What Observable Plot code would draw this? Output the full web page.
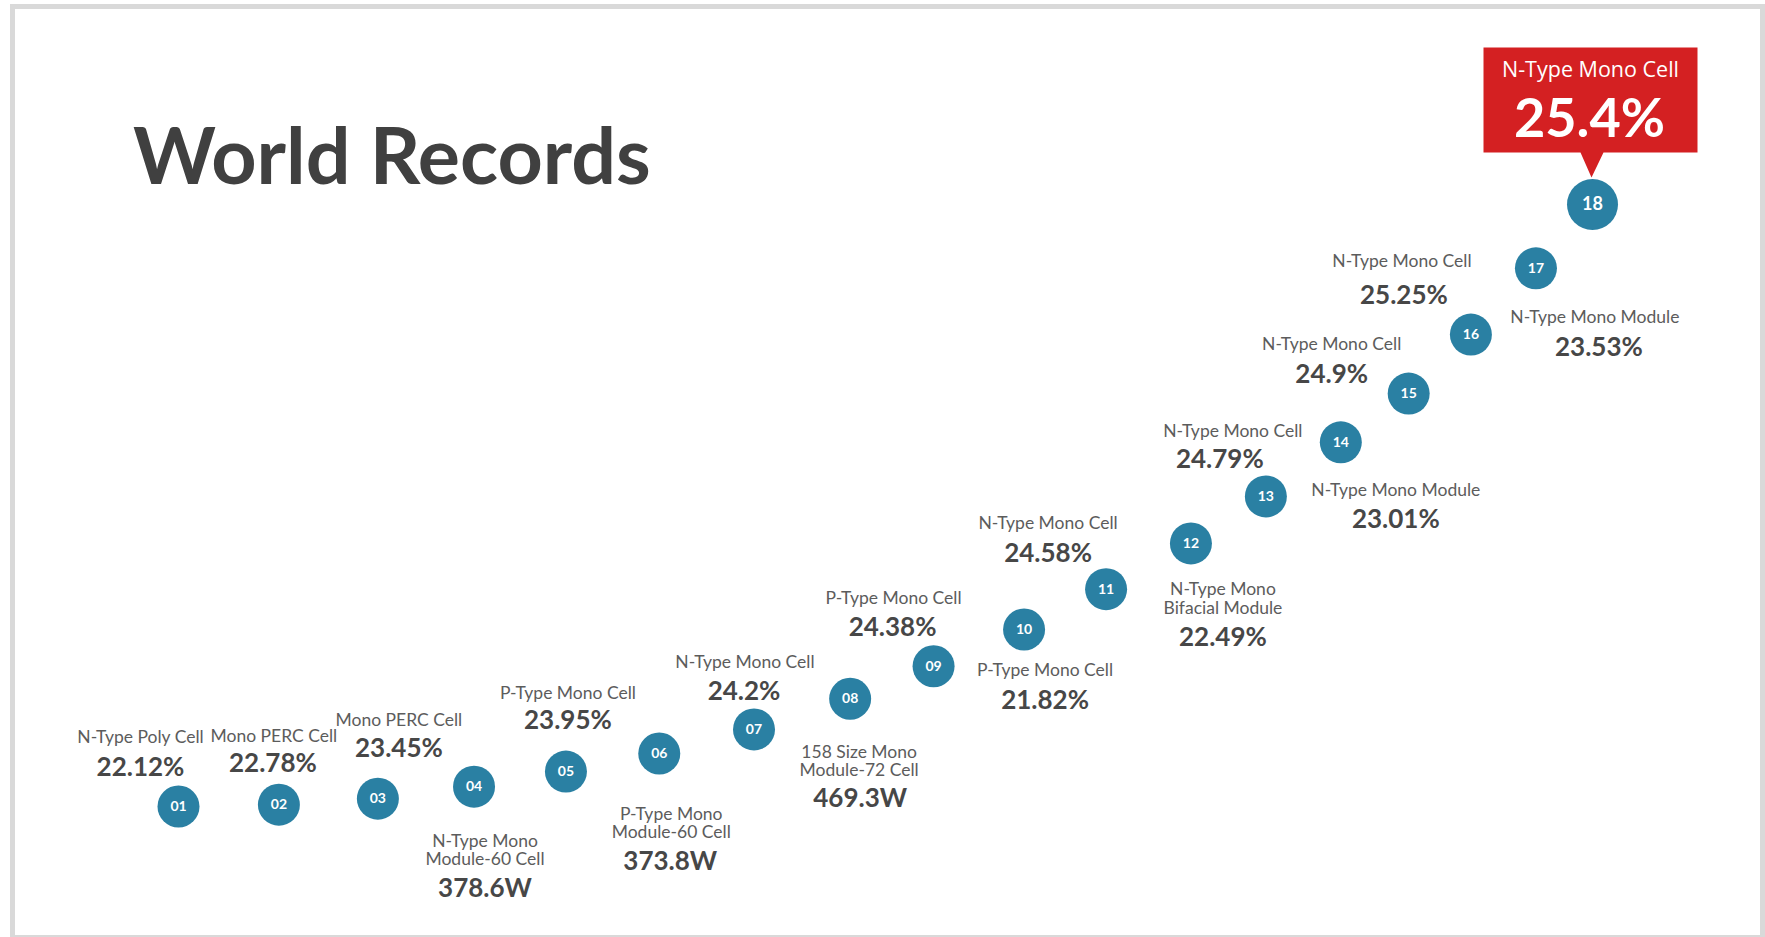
<!DOCTYPE html>
<html>
<head>
<meta charset="utf-8">
<script src="https://cdn.jsdelivr.net/npm/d3@7"></script>
<script src="https://cdn.jsdelivr.net/npm/@observablehq/plot@0.6"></script>
<style>
  html, body { margin: 0; padding: 0; background: #ffffff; }
  #wrap { position: relative; width: 1765px; height: 937px; overflow: hidden; background: #ffffff; }
  #frame { position: absolute; left: 10px; top: 4px; width: 1755px; height: 933px; box-sizing: border-box;
           border-style: solid; border-color: #d9d9d9; border-width: 5px 5px 2px 5px; pointer-events: none; }
  #title { position: absolute; left: 133px; top: 114px; margin: 0; font-family: Lato, "Open Sans", sans-serif;
           font-weight: 700; font-size: 79px; line-height: 1; color: #404040; white-space: nowrap; }
  #chart { position: absolute; left: 0; top: 0; }
</style>
</head>
<body>
<div id="wrap">
  <div id="chart"></div>
  <div id="frame"></div>
  <h1 id="title">World Records</h1>
</div>
<script>
// ---- data ----
const ids = ["01","02","03","04","05","06","07","08","09","10","11","12","13","14","15","16","17","18"];
const categories = [
  "N-Type Poly Cell", "Mono PERC Cell", "Mono PERC Cell", "N-Type Mono\nModule-60 Cell",
  "P-Type Mono Cell", "P-Type Mono\nModule-60 Cell", "N-Type Mono Cell", "158 Size Mono\nModule-72 Cell",
  "P-Type Mono Cell", "P-Type Mono Cell", "N-Type Mono Cell", "N-Type Mono\nBifacial Module",
  "N-Type Mono Cell", "N-Type Mono Module", "N-Type Mono Cell", "N-Type Mono Module",
  "N-Type Mono Cell", "N-Type Mono Cell"
];
const records = ["22.12%","22.78%","23.45%","378.6W","23.95%","373.8W","24.2%","469.3W","24.38%",
                 "21.82%","24.58%","22.49%","24.79%","23.01%","24.9%","23.53%","25.25%","25.4%"];
// position of each record along the rising path (abstract units 0-100)
const progress = [0, 7.1, 14.1, 20.9, 27.4, 34.0, 40.7, 47.5, 53.4, 59.8, 65.6, 71.6, 76.9, 82.2, 87.0, 91.4, 96.0, 100];
const level    = [0, 0.3, 1.3, 3.3, 5.8, 8.8, 12.8, 17.9, 23.3, 29.4, 36.1, 43.7, 51.5, 60.5, 68.6, 78.4, 89.4, 100];
const latestIndex = 17; // index of the highlighted (latest) record

// ---- layout: label offsets relative to each dot [dxCat, dyCat, dxVal, dyVal] ----
const labelOffsets = [
  [-38,-69,-38,-39], [-5,-69,-6,-41], [21,-79,21,-50], [11,63.5,11,102],
  [2,-79,2,-51], [12,69.5,11,108], [-9,-67,-10,-38], [9,62.5,10,100],
  [-40,-68,-41,-39], [21,41,21,71], [-58,-66,-58,-36], [32,55,32,94],
  [-33,-65,-46,-37], [55,48,55,77], [-77,-49,-77,-19], [124,-17,128,13],
  [-134,-7,-132,27], [-2,-134,-3,-85]
];

const data = ids.map((id, i) => ({id, category: categories[i], record: records[i], progress: progress[i], level: level[i], i}));
const regular = data.filter(d => d.i !== latestIndex);
const latestRecord = data[latestIndex];

const calloutSymbol = {
  draw(ctx) {
    ctx.moveTo(-109, -157); ctx.lineTo(105, -157); ctx.lineTo(105, -52);
    ctx.lineTo(11, -52); ctx.lineTo(-1, -27); ctx.lineTo(-12, -52);
    ctx.lineTo(-109, -52); ctx.closePath();
  }
};

const labelFont = "Lato, 'Open Sans', sans-serif";
const labelMarks = regular.flatMap(d => {
  const [dxc, dyc, dxv, dyv] = labelOffsets[d.i];
  return [
    Plot.text([d], {x: "progress", y: "level", text: "category", dx: dxc, dy: dyc,
      fontFamily: labelFont, fontSize: 17.5, fill: "#5c5c5c", lineAnchor: "middle", lineHeight: 1.06}),
    Plot.text([d], {x: "progress", y: "level", text: "record", dx: dxv, dy: dyv,
      fontFamily: labelFont, fontSize: 26, fontWeight: 700, fill: "#474747", lineAnchor: "middle"})
  ];
});

const [cdx, cdy, vdx, vdy] = labelOffsets[latestIndex];

const chart = Plot.plot({
  width: 1765,
  height: 937,
  margin: 0,
  x: {domain: [0, 100], range: [178, 1592], axis: null},
  y: {domain: [0, 100], range: [806, 204], axis: null},
  style: {background: "transparent", overflow: "visible"},
  marks: [
    Plot.dot([latestRecord], {x: "progress", y: "level", symbol: calloutSymbol, fill: "#d42022", stroke: "none"}),
    Plot.text([latestRecord], {x: "progress", y: "level", text: "category", dx: cdx, dy: cdy,
      fontFamily: "'Open Sans', 'Noto Sans', sans-serif", fontSize: 21.5, fill: "#ffffff", lineAnchor: "middle"}),
    Plot.text([latestRecord], {x: "progress", y: "level", text: "record", dx: vdx, dy: vdy,
      fontFamily: labelFont, fontSize: 54, fontWeight: 700, fill: "#ffffff", lineAnchor: "middle"}),
    Plot.dot(regular, {x: "progress", y: "level", r: 21, fill: "#2a80a3", stroke: "none"}),
    Plot.dot([latestRecord], {x: "progress", y: "level", r: 25.5, fill: "#2a80a3", stroke: "none"}),
    Plot.text(regular, {x: "progress", y: "level", text: "id", fill: "#ffffff",
      fontFamily: labelFont, fontWeight: 700, fontSize: 14, lineAnchor: "middle"}),
    Plot.text([latestRecord], {x: "progress", y: "level", text: "id", fill: "#ffffff",
      fontFamily: labelFont, fontWeight: 700, fontSize: 18, lineAnchor: "middle"}),
    ...labelMarks
  ]
});
document.getElementById("chart").appendChild(chart);
</script>
</body>
</html>
